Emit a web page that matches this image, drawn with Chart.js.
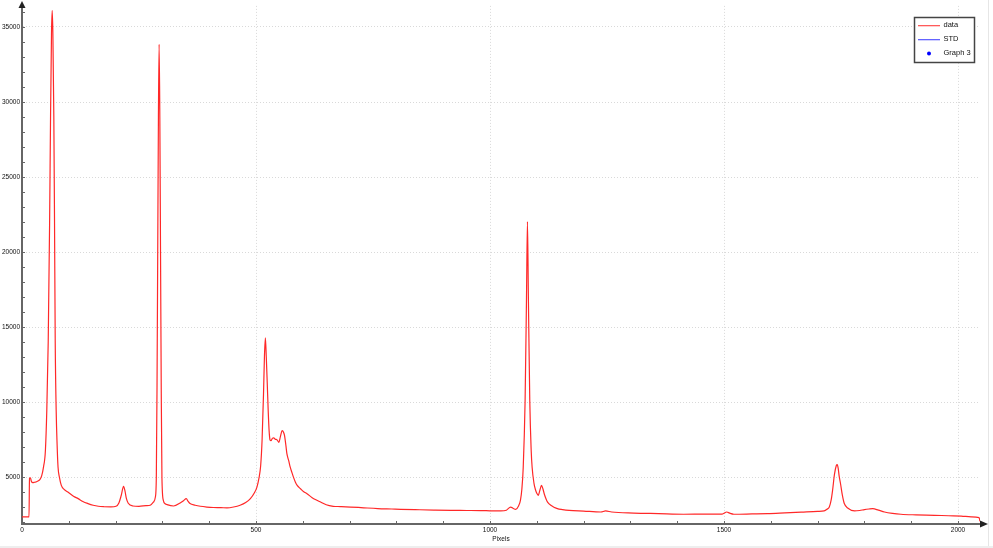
<!DOCTYPE html>
<html lang="en">
<head>
<meta charset="UTF-8">
<title>Spectrum</title>
<script src="https://cdn.jsdelivr.net/npm/chart.js"></script>
<style>
  html, body { margin: 0; padding: 0; background: #fff; }
  canvas { display: block; }
</style>
</head>
<body>
<canvas id="spec" width="993" height="548"></canvas>
<script>
// spectrum: pixel position -> counts
const pixelPos = [
  0, 15, 16, 18, 20, 23, 27, 30, 34, 38, 42, 46, 50, 53, 56, 59, 61, 63, 64.5, 66, 68, 69.5, 71, 73, 75, 77, 80, 84, 90, 98,
  110, 120, 130, 141, 152, 163, 175, 190, 201, 207, 212, 217, 220, 223, 227, 237, 250, 265, 274, 281, 285, 287, 288.5, 290,
  291.5, 293, 294.5, 296, 297.5, 299, 302, 306, 310, 324, 338, 345, 351, 355, 359, 370, 381, 395, 409, 425, 438, 452, 466,
  478, 488, 496, 502, 506, 510, 513, 516, 518, 520, 522, 524, 526, 528, 530, 532, 535, 538, 541, 545, 549, 552, 556, 559,
  561, 564, 566, 570, 573, 577, 580, 584, 588, 595, 602, 609, 620, 630, 638, 650, 665, 680, 702, 730, 760, 790, 809, 850,
  880, 916, 950, 980, 1000, 1023, 1035, 1044, 1050, 1055, 1061, 1065, 1068, 1071, 1075, 1078, 1080, 1082, 1085, 1088, 1090,
  1094, 1097, 1100, 1103, 1107, 1110, 1113, 1116, 1120, 1123, 1130, 1144, 1155, 1169, 1200, 1237, 1247, 1260, 1307, 1360,
  1414, 1460, 1496, 1506, 1512, 1521, 1560, 1593, 1630, 1665, 1700, 1714, 1720, 1725, 1729, 1732, 1736, 1740, 1742, 1744,
  1746, 1749, 1753, 1757, 1765, 1779, 1790, 1800, 1810, 1818, 1830, 1843, 1860, 1878, 1910, 1950, 1980, 2007, 2028, 2045, 2047
];
const counts = [
  2370, 2370, 4950, 4980, 4750, 4650, 4680, 4700, 4760, 4850, 5100, 5700, 6800, 9500, 14000, 22000, 29000, 34500, 36100, 34500, 29000, 22000, 14000, 9500, 7200, 5700, 5000, 4470, 4200, 4030,
  3750, 3590, 3400, 3260, 3150, 3080, 3050, 3040, 3080, 3300, 3800, 4400, 4100, 3600, 3280, 3100, 3080, 3120, 3150, 3360, 3700, 5000, 11000, 20000,
  29000, 33840, 29000, 20000, 11000, 5000, 3480, 3250, 3190, 3100, 3300, 3450, 3590, 3400, 3260, 3150, 3080, 3030, 3000, 2990, 2970, 3030, 3150,
  3330, 3590, 3950, 4360, 4900, 5800, 7500, 10500, 13000, 14300, 13000, 11300, 9500, 8120, 7500, 7450, 7600, 7630, 7550, 7500, 7340, 7700, 8120, 8000,
  7790, 7100, 6580, 6100, 5700, 5300, 5020, 4700, 4470, 4250, 4050, 3920, 3650, 3480, 3360, 3180, 3080, 3060, 3030, 2980, 2930, 2900, 2880, 2850,
  2830, 2810, 2800, 2790, 2780, 2770, 2820, 3030, 2930, 2880, 3100, 3480, 4200, 5680, 10110, 17000, 22040, 17000, 10110, 6800, 5680,
  4600, 4200, 3950, 3810, 4200, 4470, 4250, 3900, 3550, 3360, 3150, 2920, 2860, 2810, 2760, 2700, 2770, 2700, 2630, 2590,
  2550, 2560, 2560, 2700, 2620, 2550, 2570, 2590, 2640, 2690, 2740, 2770, 2880, 3030, 3500, 4140, 5200, 5800, 5860, 5600,
  5100, 4580, 3800, 3260, 2950, 2770, 2800, 2860, 2900, 2920, 2820, 2700, 2610, 2550, 2510, 2480, 2450, 2430, 2370, 2330, 2080
];

const xTickLabels = [0, 500, 1000, 1500, 2000];
const yTickLabels = [5000, 10000, 15000, 20000, 25000, 30000, 35000];
const seriesNames = ['data', 'STD', 'Graph 3'];
const seriesColors = ['rgb(255,40,40)', 'rgb(70,70,255)', 'rgb(0,0,255)'];
const legendColors = ['rgb(255,90,90)', 'rgb(100,100,255)', 'rgb(0,0,255)'];

const axisColor = '#666';
const gridColor = '#d9d9d9';
const tickFont = { family: 'Liberation Sans, Arial, sans-serif', size: 6.5 };

const points = pixelPos.map((p, i) => ({ x: p, y: counts[i] }));

// minor ticks every 1000 on y (chart.js would space them oddly with min/max set)
const yMinorTicks = [];
for (let v = 2000; v <= 36000; v += 1000) yMinorTicks.push(v);

// inward tick marks, axis arrows, frame and the boxed legend
const decorations = {
  id: 'decorations',
  beforeDraw(chart) {
    const ctx = chart.ctx;
    ctx.save();
    ctx.fillStyle = '#fff';
    ctx.fillRect(0, 0, chart.width, chart.height);
    ctx.fillStyle = '#eeeeee';
    ctx.fillRect(0, 546, chart.width, 2);
    ctx.fillStyle = '#e6e6e6';
    ctx.fillRect(988, 0, 1, 546);
    ctx.restore();
  },
  afterDraw(chart) {
    const ctx = chart.ctx;
    const area = chart.chartArea;
    const xs = chart.scales.x, ys = chart.scales.y;
    ctx.save();
    ctx.strokeStyle = axisColor;
    ctx.lineWidth = 1;
    ctx.beginPath();
    xs.ticks.forEach(t => {
      const px = Math.round(xs.getPixelForValue(t.value)) + 0.5;
      ctx.moveTo(px, area.bottom);
      ctx.lineTo(px, area.bottom - 3);
    });
    ys.ticks.forEach(t => {
      const py = Math.round(ys.getPixelForValue(t.value)) + 0.5;
      ctx.moveTo(area.left, py);
      ctx.lineTo(area.left + 3, py);
    });
    ctx.stroke();

    // arrows
    ctx.fillStyle = '#222';
    ctx.beginPath();
    ctx.moveTo(area.left, 1);
    ctx.lineTo(area.left - 3.5, 8);
    ctx.lineTo(area.left + 3.5, 8);
    ctx.closePath();
    ctx.fill();
    ctx.beginPath();
    ctx.moveTo(area.right + 8, area.bottom);
    ctx.lineTo(area.right, area.bottom - 3.5);
    ctx.lineTo(area.right, area.bottom + 3.5);
    ctx.closePath();
    ctx.fill();

    // legend box
    const bx = 914.5, by = 17.5, bw = 60, bh = 45;
    ctx.fillStyle = '#fff';
    ctx.fillRect(bx, by, bw, bh);
    ctx.strokeStyle = '#444';
    ctx.lineWidth = 1.5;
    ctx.strokeRect(bx, by, bw, bh);
    ctx.font = '7.5px Liberation Sans, Arial, sans-serif';
    ctx.textBaseline = 'middle';
    ctx.textAlign = 'left';
    seriesNames.forEach((name, i) => {
      const rowY = Math.round(25 + i * 13.8);
      ctx.fillStyle = legendColors[i];
      if (i === 2) {
        ctx.beginPath();
        ctx.arc(929, rowY + 0.5, 2, 0, Math.PI * 2);
        ctx.fill();
      } else {
        ctx.fillRect(918, rowY, 22, 1.3);
      }
      ctx.fillStyle = '#111';
      ctx.fillText(name, 943.5, rowY);
    });
    ctx.restore();
  }
};

new Chart(document.getElementById('spec').getContext('2d'), {
  type: 'line',
  data: {
    datasets: [
      {
        label: seriesNames[0],
        data: points,
        borderColor: seriesColors[0],
        borderWidth: 1.2,
        pointRadius: 0,
        cubicInterpolationMode: 'monotone',
        fill: false
      },
      {
        label: seriesNames[1],
        data: [],
        borderColor: seriesColors[1],
        borderWidth: 1,
        pointRadius: 0
      },
      {
        label: seriesNames[2],
        data: [],
        showLine: false,
        pointBackgroundColor: seriesColors[2],
        pointBorderColor: seriesColors[2],
        pointRadius: 2
      }
    ]
  },
  options: {
    responsive: false,
    animation: false,
    devicePixelRatio: 1,
    layout: { padding: { top: 4, right: 13, left: 0, bottom: 0 } },
    plugins: {
      legend: { display: false },
      tooltip: { enabled: false }
    },
    scales: {
      x: {
        type: 'linear',
        min: 0,
        max: 2047,
        afterFit(scale) { scale.height = 24; },
        ticks: {
          stepSize: 100,
          autoSkip: false,
          maxRotation: 0,
          includeBounds: false,
          padding: 2,
          color: '#111',
          font: tickFont,
          callback: v => xTickLabels.includes(v) ? String(v) : ''
        },
        grid: {
          drawTicks: false,
          lineWidth: 1,
          color: c => (c.tick && c.tick.value % 500 === 0 && c.tick.value !== 0) ? gridColor : 'rgba(0,0,0,0)'
        },
        border: { color: axisColor, width: 2, dash: [1, 2] },
        title: {
          display: true,
          text: 'Pixels',
          color: '#111',
          font: tickFont,
          padding: { top: 0, bottom: 5 }
        }
      },
      y: {
        type: 'linear',
        min: 1900,
        max: 36400,
        afterFit(scale) { scale.width = 22; },
        afterBuildTicks(scale) { scale.ticks = yMinorTicks.map(v => ({ value: v })); },
        ticks: {
          autoSkip: false,
          padding: 2,
          color: '#111',
          font: tickFont,
          callback: v => yTickLabels.includes(v) ? String(v) : ''
        },
        grid: {
          drawTicks: false,
          lineWidth: 1,
          color: c => (c.tick && c.tick.value % 5000 === 0) ? gridColor : 'rgba(0,0,0,0)'
        },
        border: { color: axisColor, width: 2, dash: [1, 2] }
      }
    }
  },
  plugins: [decorations]
});
</script>
</body>
</html>
